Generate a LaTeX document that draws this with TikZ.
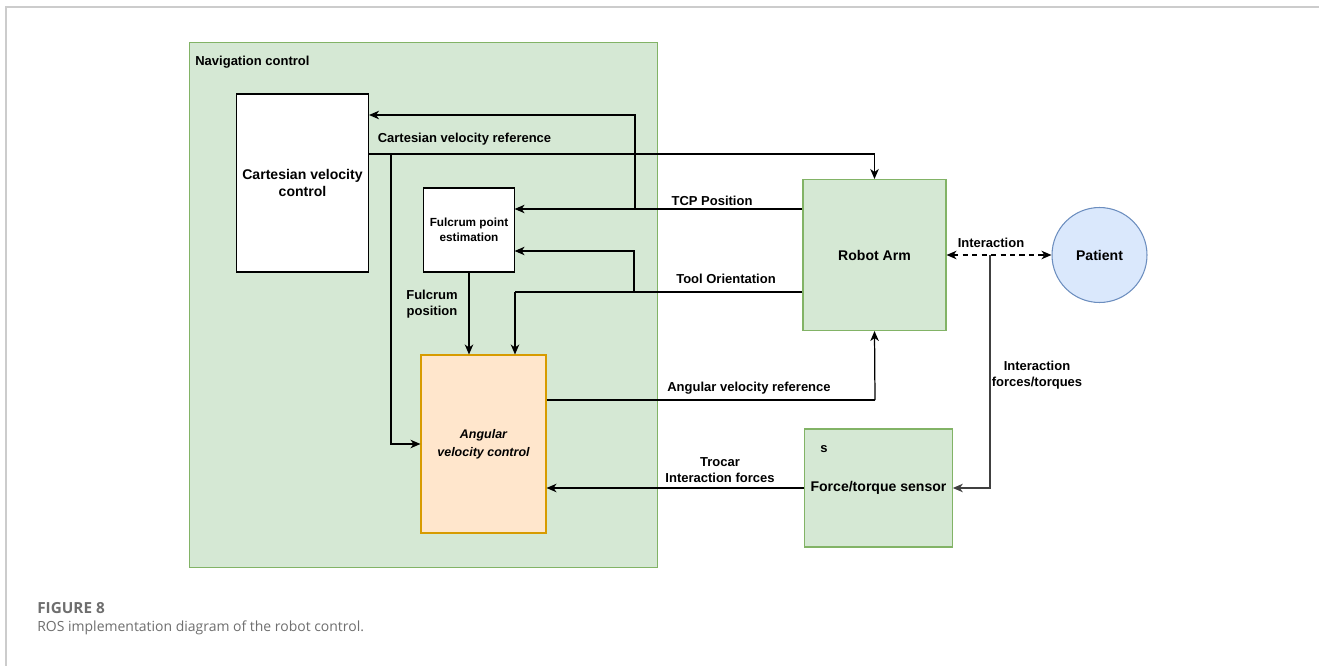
\documentclass[tikz,border=0pt]{standalone}
\usepackage{fontspec}
\setmainfont{Liberation Sans}
\newfontfamily\capfont{Open Sans}
\usepackage{tikz}
\usetikzlibrary{arrows.meta}
\definecolor{navfill}{HTML}{D5E8D4}
\definecolor{navline}{HTML}{82B366}
\definecolor{angfill}{HTML}{FFE6CC}
\definecolor{angline}{HTML}{D79B00}
\definecolor{patfill}{HTML}{DAE8FC}
\definecolor{patline}{HTML}{6C8EBF}
\definecolor{capgray}{HTML}{6E6E6E}
\tikzstyle{nav}=[rectangle, draw=navline, fill=navfill, line width=0.6pt, minimum width=9.38cm, minimum height=10.52cm]
\tikzstyle{blk}=[rectangle, draw=black, fill=white, line width=0.6pt, align=center, font=\bfseries\fontsize{8}{9.7}\selectfont]
\tikzstyle{grn}=[rectangle, draw=navline, fill=navfill, line width=0.6pt, align=center, font=\bfseries\fontsize{8}{9.7}\selectfont]
\tikzstyle{ang}=[rectangle, draw=angline, fill=angfill, line width=0.6pt, align=center, font=\bfseries\itshape\fontsize{7.1}{10.2}\selectfont]
\tikzstyle{pat}=[circle, draw=patline, fill=patfill, line width=0.6pt, inner sep=0pt, minimum size=1.9cm, font=\bfseries\fontsize{8}{9.7}\selectfont]
\tikzstyle{lbl}=[inner sep=0pt, align=center, font=\bfseries\fontsize{7.4}{9.5}\selectfont]
\tikzstyle{edge}=[line width=0.7pt, -{Stealth[length=2mm, width=1.7mm, inset=0.6mm]}]
\tikzstyle{wire}=[line width=0.7pt]
\tikzstyle{dedge}=[line width=0.7pt, dashed, dash pattern=on 3pt off 2.4pt, {Stealth[length=2mm, width=1.7mm, inset=0.6mm]}-{Stealth[length=2mm, width=1.7mm, inset=0.6mm]}]
\begin{document}
\begin{tikzpicture}[x=0.02cm, y=-0.02cm]
	\useasboundingbox (0,0) rectangle (1319,666);
	%The page frame
	\draw[draw=black!20, line width=0.9pt] (6,666) -- (6,7) -- (1319,7);

	%The navigation block
	\draw (423.5,305) node[nav] (navctl) {};
	\draw (195,62) node[lbl, anchor=west] (navlbl) {Navigation control};
	\draw (302.5,183) node[blk, minimum width=2.5cm, minimum height=3.56cm] (cart) {Cartesian velocity\\control};
	\draw (469,230) node[blk, minimum width=1.68cm, minimum height=1.68cm, font=\bfseries\fontsize{6.7}{8.5}\selectfont] (fulc) {Fulcrum point\\estimation};
	\draw (483.5,444) node[ang, minimum width=2.5cm, minimum height=3.56cm] (angctl) {Angular\\velocity control};

	%The robot side
	\draw (874.5,255) node[grn, minimum width=2.86cm, minimum height=3.02cm] (robot) {Robot Arm};
	\draw (1099.5,255) node[pat] (patient) {Patient};
	\draw (878.5,488) node[grn, minimum width=2.86cm, minimum height=2.36cm] (sensor) {Force/torque sensor};
	\draw (824,449) node[lbl] (slbl) {s};

	%Branch points
	\coordinate (cvr) at (391,154);
	\coordinate (tcp) at (635,209);
	\coordinate (tcpup) at (635,115);
	\coordinate (tool) at (634,292);
	\coordinate (toolup) at (634,251);
	\coordinate (toolin) at (515,292);
	\coordinate (avr) at (875,400);
	\coordinate (ifrc) at (990,255);

	%Connectors
	\draw[edge] (cart.east |- cvr) -| (robot.north);
	\draw[edge] (cvr) |- (angctl.west);
	\draw[edge] (robot.west |- tcp) -- (fulc.east |- tcp);
	\draw[edge] (tcp) -- (tcpup) -- (cart.east |- tcpup);
	\draw[wire] (robot.west |- tool) -- (toolin);
	\draw[edge] (toolin) -- (angctl.north -| toolin);
	\draw[edge] (tool) -- (toolup) -- (fulc.east |- toolup);
	\draw[edge] (fulc.south) -- (fulc.south |- angctl.north);
	\draw[wire] (angctl.east |- avr) -- (avr);
	\draw[edge] (avr) -- (robot.south);
	\draw[edge] (sensor.west) -- (sensor.west -| angctl.east);
	\draw[dedge] (robot.east) -- (patient.west);
	\draw[edge, draw=black!75] (ifrc) |- (sensor.east);

	%Connector labels
	\draw (464.5,139) node[lbl] (lcvr) {Cartesian velocity reference};
	\draw (712,201) node[lbl] (ltcp) {TCP Position};
	\draw (726,279) node[lbl] (ltool) {Tool Orientation};
	\draw (432,304) node[lbl] (lfulc) {Fulcrum\\position};
	\draw (749,388) node[lbl] (lavr) {Angular velocity reference};
	\draw (720,470) node[lbl] (ltroc) {Trocar\\Interaction forces};
	\draw (991,243) node[lbl] (lint) {Interaction};
	\draw (1037,375) node[lbl] (lifrc) {Interaction\\forces/torques};

	%The caption
	\draw (37,608) node[anchor=west, inner sep=0pt, text=capgray, font=\capfont\bfseries\fontsize{8.7}{10}\selectfont] (capa) {FIGURE 8};
	\draw (37,628) node[anchor=west, inner sep=0pt, text=capgray, font=\capfont\fontsize{7.95}{10}\selectfont] (capb) {ROS implementation diagram of the robot control.};
\end{tikzpicture}
\end{document}
